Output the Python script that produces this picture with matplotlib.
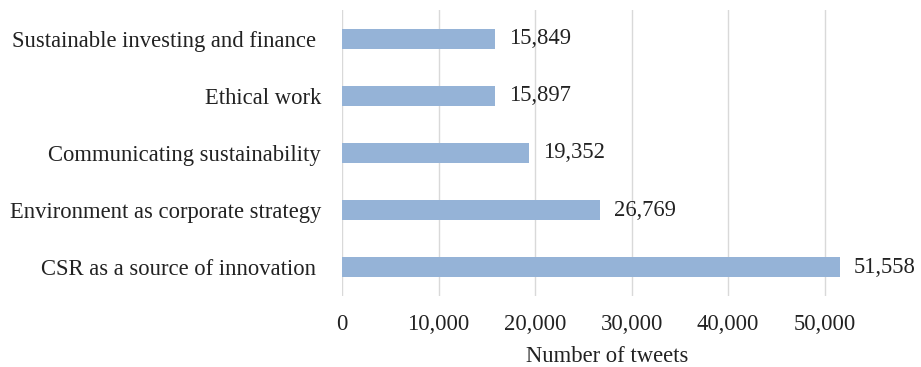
import matplotlib
matplotlib.use("Agg")
import matplotlib.pyplot as plt
from matplotlib.ticker import FuncFormatter

categories = [
    "CSR as a source of innovation ",
    "Environment as corporate strategy",
    "Communicating sustainability",
    "Ethical work",
    "Sustainable investing and finance ",
]
tweets = [51558, 26769, 19352, 15897, 15849]
xticks = [0, 10000, 20000, 30000, 40000, 50000]

plt.rcParams['font.family'] = ['Liberation Serif', 'DejaVu Serif']
FS = 16.3

fig = plt.figure(figsize=(9.21, 3.67), dpi=100)
ax = fig.add_axes([0.3713, 0.1935, 0.5766, 0.7793])

ypos = range(len(categories))
bars = ax.barh(ypos, tweets, height=0.35, color='#95b3d7', zorder=2)

for y, v in zip(ypos, tweets):
    ax.annotate(f"{v:,}", xy=(v, y), xytext=(10, 0), textcoords='offset points',
                va='center', ha='left', fontsize=FS, color='#222222')

ax.set_yticks(list(ypos))
ax.set_yticklabels(categories)
ax.set_ylim(-0.5, len(categories) - 0.5)
ax.set_xlim(0, 55000)
ax.set_xticks(xticks)
ax.xaxis.set_major_formatter(FuncFormatter(lambda x, p: f"{int(x):,}"))

ax.grid(axis='x', color='#d9d9d9', linewidth=1, zorder=0)
ax.set_axisbelow(True)
for s in ax.spines.values():
    s.set_visible(False)

ax.tick_params(axis='y', length=0, pad=15, labelsize=FS, labelcolor='#222222')
ax.tick_params(axis='x', length=0, pad=13, labelsize=FS, labelcolor='#222222')
ax.set_xlabel("Number of tweets", fontsize=FS, color='#222222', labelpad=8)

fig.savefig("out.png", dpi=100)
